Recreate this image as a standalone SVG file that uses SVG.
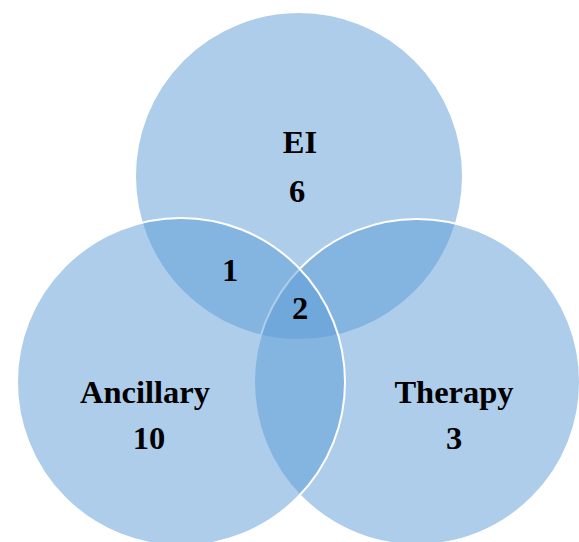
<svg xmlns="http://www.w3.org/2000/svg" width="579" height="542" viewBox="0 0 579 542">
<style>
.c{fill:#5B9BD5;fill-opacity:0.5;stroke:#FFFFFF;stroke-width:2}
.t{font-family:"Liberation Serif","Times New Roman",serif;font-weight:bold;font-size:32.5px;fill:#000;text-anchor:middle}
</style>
<rect width="579" height="542" fill="#FFFFFF"/>
<g id="ei"><circle class="c" cx="299" cy="176" r="164"/></g>
<g id="therapy"><circle class="c" cx="417" cy="382" r="163"/></g>
<g id="ancillary"><circle class="c" cx="181" cy="382" r="164"/></g>
<g id="labels">
<text class="t" x="300" y="153">EI</text>
<text class="t" x="297" y="202">6</text>
<text class="t" x="230" y="281">1</text>
<text class="t" x="300" y="319">2</text>
<text class="t" x="145" y="403">Ancillary</text>
<text class="t" x="149" y="449">10</text>
<text class="t" x="454" y="403">Therapy</text>
<text class="t" x="454" y="449">3</text>
</g>
<g id="connectors"></g>
</svg>
